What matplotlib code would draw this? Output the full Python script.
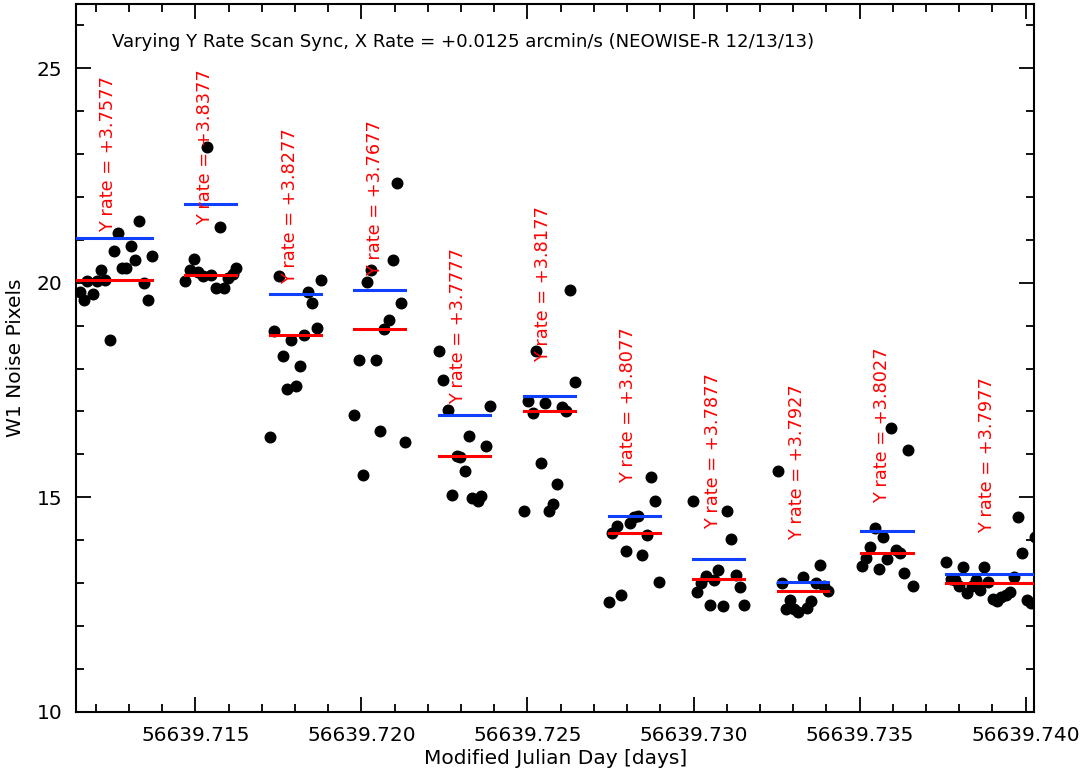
import numpy as np
import matplotlib
matplotlib.use('Agg')
import matplotlib.pyplot as plt
from matplotlib.ticker import MultipleLocator, FuncFormatter

# times are MJD offsets from 56639.71, in units of 1e-3 day
mjd_base = 56639.71

t_ms = [
    # +3.7577
    1.515, 1.657, 1.738, 1.907, 2.039, 2.160, 2.289, 2.419, 2.539, 2.681,
    2.792, 2.922, 3.063, 3.193, 3.313, 3.443, 3.563, 3.696,
    # +3.8377
    4.699, 4.828, 4.961, 5.081, 5.220, 5.346, 5.473, 5.611, 5.732, 5.864,
    5.985, 6.123, 6.235,
    # +3.8277
    7.259, 7.370, 7.509, 7.636, 7.750, 7.886, 8.027, 8.139, 8.262, 8.398,
    8.524, 8.666, 8.789,
    # +3.7677
    9.789, 9.919, 10.051, 10.172, 10.292, 10.431, 10.572, 10.693, 10.822,
    10.943, 11.075, 11.196, 11.316,
    # +3.7777
    12.334, 12.461, 12.599, 12.732, 12.877, 12.982, 13.108, 13.232, 13.343,
    13.503, 13.614, 13.750, 13.864,
    # +3.8177
    14.889, 15.009, 15.160, 15.256, 15.413, 15.521, 15.642, 15.774, 15.895,
    16.045, 16.145, 16.280, 16.416,
    # +3.8077
    17.449, 17.551, 17.681, 17.822, 17.952, 18.081, 18.202, 18.334, 18.455,
    18.584, 18.705, 18.834, 18.955,
    # +3.7877
    19.979, 20.111, 20.232, 20.361, 20.491, 20.611, 20.744, 20.883, 20.994,
    21.136, 21.265, 21.395, 21.515,
    # +3.7927
    22.539, 22.651, 22.771, 22.901, 23.021, 23.154, 23.292, 23.425, 23.545,
    23.675, 23.795, 23.925, 24.057,
    # +3.8027
    25.081, 25.202, 25.310, 25.452, 25.581, 25.702, 25.834, 25.955, 26.084,
    26.214, 26.334, 26.467, 26.605,
    # +3.7977
    27.611, 27.741, 27.861, 27.991, 28.123, 28.244, 28.373, 28.494, 28.623,
    28.744, 28.870, 29.015, 29.148, 29.268, 29.398, 29.518, 29.648, 29.780,
    29.901, 30.030, 30.151, 30.271,
]

w1_noise = [
    19.78, 19.60, 20.05, 19.74, 20.05, 20.30, 20.07, 18.67, 20.73, 21.16,
    20.35, 20.35, 20.85, 20.54, 21.45, 19.99, 19.61, 20.63,
    20.04, 20.29, 20.56, 20.25, 20.15, 23.16, 20.17, 19.88, 21.30, 19.88,
    20.11, 20.21, 20.35,
    16.40, 18.88, 20.15, 18.29, 17.53, 18.67, 17.59, 18.06, 18.79, 19.78,
    19.53, 18.94, 20.06,
    16.92, 18.20, 15.53, 20.01, 20.29, 18.21, 16.55, 18.93, 19.14, 20.52,
    22.33, 19.53, 16.28,
    18.42, 17.73, 17.04, 15.06, 15.96, 15.93, 15.62, 16.43, 14.98, 14.92,
    15.03, 16.20, 17.12,
    14.67, 17.25, 16.97, 18.42, 15.79, 17.19, 14.69, 14.84, 15.30, 17.11,
    17.00, 19.84, 17.68,
    12.55, 14.16, 14.32, 12.71, 13.74, 14.39, 14.53, 14.57, 13.66, 14.12,
    15.47, 14.91, 13.02,
    14.92, 12.78, 12.99, 13.17, 12.49, 13.07, 13.31, 12.46, 14.67, 14.03,
    13.19, 12.90, 12.49,
    15.62, 12.99, 12.40, 12.61, 12.40, 12.33, 13.13, 12.42, 12.57, 12.99,
    13.43, 12.92, 12.82,
    13.39, 13.58, 13.85, 14.29, 13.33, 14.08, 13.55, 16.61, 13.77, 13.70,
    13.24, 16.09, 12.94,
    13.48, 13.10, 13.06, 12.94, 13.37, 12.77, 12.94, 13.07, 12.84, 13.37,
    13.02, 12.63, 12.59, 12.67, 12.71, 12.78, 13.13, 14.53, 13.70, 12.61,
    12.53, 14.07,
]

y_rates = ['+3.7577', '+3.8377', '+3.8277', '+3.7677', '+3.7777', '+3.8177',
           '+3.8077', '+3.7877', '+3.7927', '+3.8027', '+3.7977']
seg_start = [1.30, 4.70, 7.26, 9.79, 12.33, 14.89, 17.45, 19.98, 22.54, 25.05, 27.61]
seg_end = [3.70, 6.235, 8.79, 11.32, 13.88, 16.42, 18.98, 21.53, 24.06, 26.61, 30.60]
median_level = [20.07, 20.19, 18.79, 18.93, 15.95, 17.02, 14.16, 13.10, 12.82, 13.70, 13.00]
upper_level = [21.05, 21.84, 19.73, 19.83, 16.92, 17.36, 14.57, 13.56, 13.03, 14.21, 13.20]
label_t = [2.381, 5.292, 7.842, 10.410, 12.918, 15.477, 18.027, 20.595, 23.106, 25.665, 28.826]
label_w1 = [21.19, 21.35, 19.96, 20.16, 17.17, 18.16, 15.33, 14.25, 14.00, 14.87, 14.17]

def to_mjd(v):
    return mjd_base + np.asarray(v) * 1e-3

fig = plt.figure(figsize=(10.89, 7.82), dpi=100)
ax = fig.add_axes([0.0698, 0.0899, 0.8800, 0.9050])

ax.plot(to_mjd(t_ms), w1_noise, 'o', color='black', markersize=7.6, zorder=2)

for i in range(len(y_rates)):
    x0, x1 = to_mjd([seg_start[i], seg_end[i]])
    ax.plot([x0, x1], [median_level[i]] * 2, color='#ff0000', lw=2.2, zorder=3)
    ax.plot([x0, x1], [upper_level[i]] * 2, color='#1040ff', lw=2.2, zorder=3)
    ax.text(to_mjd(label_t[i]), label_w1[i], 'Y rate = ' + y_rates[i],
            rotation=90, color='#ff0000', fontsize=12.8,
            ha='center', va='bottom', zorder=4, clip_on=True)

ax.set_xlim(56639.711408, 56639.74026)
ax.set_ylim(10, 26.5)

ax.xaxis.set_major_locator(MultipleLocator(0.005))
ax.xaxis.set_minor_locator(MultipleLocator(0.001))
ax.xaxis.set_major_formatter(FuncFormatter(lambda v, p: '%.3f' % v))
ax.yaxis.set_major_locator(MultipleLocator(5))
ax.yaxis.set_minor_locator(MultipleLocator(1))

ax.tick_params(which='both', direction='in', top=True, right=True,
               labelsize=14.5, width=1.3, color='black')
ax.tick_params(which='major', length=10.5, pad=10)
ax.tick_params(which='minor', length=5.5)
for s in ax.spines.values():
    s.set_linewidth(1.5)

ax.text(0.0373, 0.9467,
        'Varying Y Rate Scan Sync, X Rate = +0.0125 arcmin/s (NEOWISE-R 12/13/13)',
        transform=ax.transAxes, ha='left', va='center', fontsize=13.1)

ax.set_xlabel('Modified Julian Day [days]', fontsize=14.5, labelpad=3)
ax.set_ylabel('W1 Noise Pixels', fontsize=14.5, labelpad=8)

fig.savefig('out.png', dpi=100)
